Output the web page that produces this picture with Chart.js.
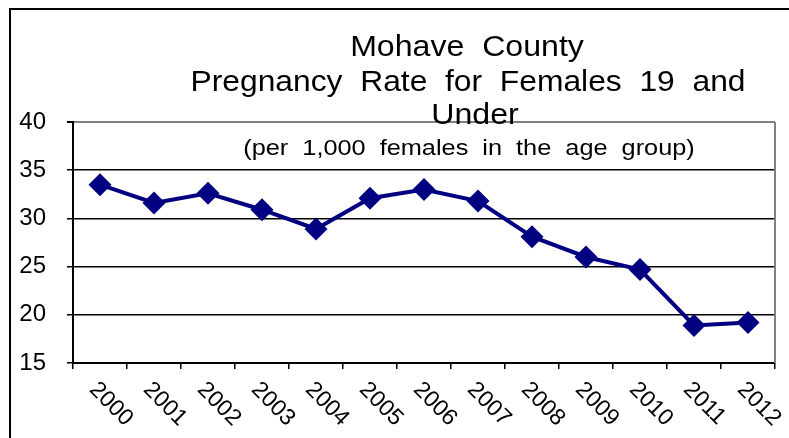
<!DOCTYPE html>
<html>
<head>
<meta charset="utf-8">
<script src="https://cdn.jsdelivr.net/npm/chart.js@4.4.0/dist/chart.umd.min.js"></script>
<style>
  body { margin: 0; background: #fff; }
  canvas { display: block; }
</style>
</head>
<body>
<canvas id="myChart" width="789" height="438"></canvas>
<script>
const years = ['2000', '2001', '2002', '2003', '2004', '2005', '2006',
  '2007', '2008', '2009', '2010', '2011', '2012'];
const rates = [33.5, 31.6, 32.6, 30.9, 28.9, 32.1, 33.0, 31.8, 28.1, 26.0, 24.7, 18.9, 19.2];
const titleLines = ['Mohave  County', 'Pregnancy  Rate  for  Females  19  and', 'Under'];
const subtitle = '(per  1,000  females  in  the  age  group)';

const FONT = '"Liberation Sans", Arial, sans-serif';

// draw text centred on cx, stretched horizontally by sx
const drawStretched = (ctx, text, cx, y, size, sx) => {
  ctx.save();
  ctx.font = size + 'px ' + FONT;
  ctx.fillStyle = '#000';
  ctx.textAlign = 'center';
  ctx.textBaseline = 'alphabetic';
  ctx.translate(cx, y);
  ctx.scale(sx, 1);
  ctx.fillText(text, 0, 0);
  ctx.restore();
};

const decorations = {
  id: 'decorations',
  afterDraw: (chart) => {
    const ctx = chart.ctx;
    const area = chart.chartArea;
    const xScale = chart.scales.x;

    // outer frame
    ctx.save();
    ctx.strokeStyle = '#000';
    ctx.lineWidth = 2;
    ctx.strokeRect(10, 9, 800, 460);

    // right border of the plot
    ctx.strokeStyle = '#808080';
    ctx.lineWidth = 2;
    ctx.beginPath();
    ctx.moveTo(area.right, area.top);
    ctx.lineTo(area.right, area.bottom);
    ctx.stroke();
    ctx.restore();

    // titles
    drawStretched(ctx, titleLines[0], 467, 56, 30, 1.07);
    drawStretched(ctx, titleLines[1], 468, 91, 30, 1.06);
    drawStretched(ctx, titleLines[2], 475, 124, 30, 1.07);
    drawStretched(ctx, subtitle, 469, 155, 22, 1.15);

    // slanted year labels
    ctx.save();
    ctx.font = '23px ' + FONT;
    ctx.fillStyle = '#000';
    ctx.textAlign = 'left';
    ctx.textBaseline = 'top';
    years.forEach((yr, i) => {
      const x = xScale.getPixelForValue(i);
      ctx.save();
      ctx.translate(x + 1, area.bottom + 15);
      ctx.rotate(Math.PI / 4);
      ctx.fillText(yr, 0, 0);
      ctx.restore();
    });
    ctx.restore();
  }
};

const data = {
  labels: years,
  datasets: [{
    label: 'Pregnancy Rate',
    data: rates,
    borderColor: '#000080',
    backgroundColor: '#000080',
    borderWidth: 4,
    pointStyle: 'rectRot',
    pointRadius: 11.5,
    pointBorderWidth: 0,
    pointBackgroundColor: '#000080',
    tension: 0
  }]
};

const config = {
  type: 'line',
  data: data,
  options: {
    responsive: false,
    animation: false,
    layout: { padding: { top: 122, right: 14, left: 0, bottom: 0 } },
    plugins: {
      legend: { display: false },
      tooltip: { enabled: false },
      title: { display: false }
    },
    scales: {
      x: {
        type: 'category',
        offset: true,
        grid: {
          display: true,
          offset: true,
          drawOnChartArea: false,
          drawTicks: true,
          tickLength: 6,
          color: '#000',
          lineWidth: 1.5
        },
        border: { display: true, color: '#000', width: 2 },
        ticks: { display: false },
        afterFit: (scale) => { scale.height = 75; }
      },
      y: {
        min: 15,
        max: 40,
        ticks: {
          stepSize: 5,
          color: '#000',
          padding: 21,
          font: { family: FONT, size: 24 }
        },
        grid: {
          color: (c) => (c.tick && c.tick.value === 40 ? '#808080' : '#000'),
          tickColor: '#000',
          lineWidth: (c) => (c.tick && c.tick.value === 40 ? 2 : 1.5),
          tickLength: 6
        },
        border: { display: true, color: '#000', width: 2 },
        afterFit: (scale) => { scale.width = 73; }
      }
    }
  },
  plugins: [decorations]
};

const myChart = new Chart('myChart', config);
</script>
</body>
</html>
